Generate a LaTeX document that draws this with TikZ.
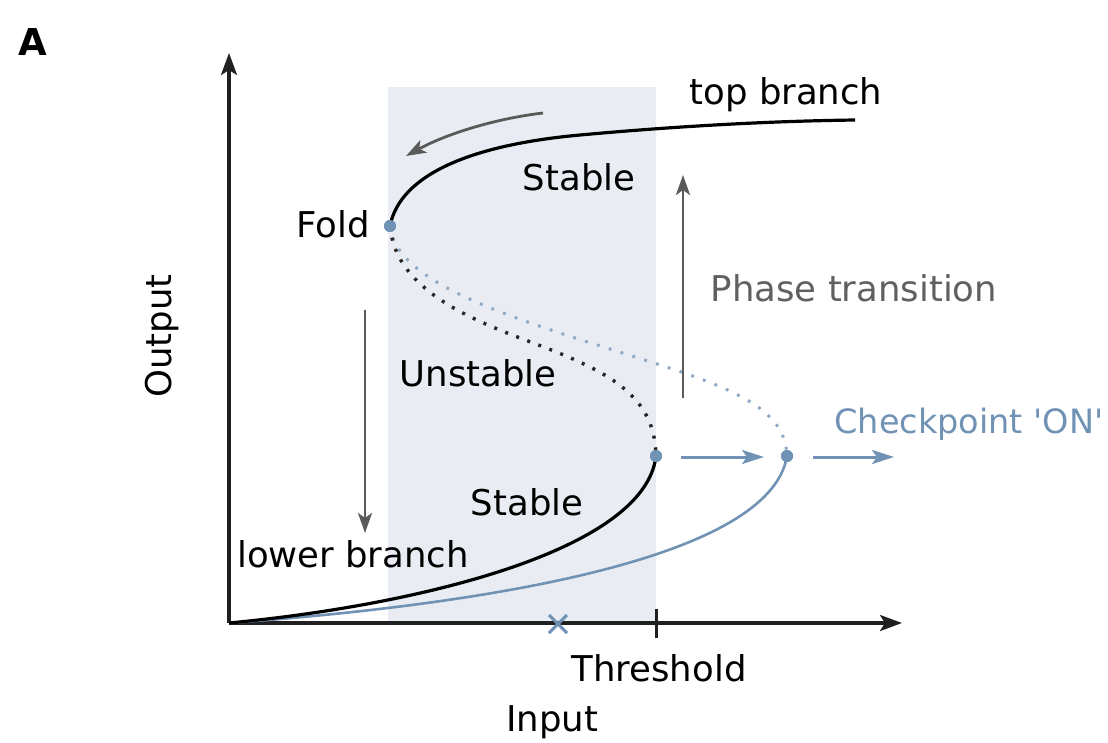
\documentclass[tikz,border=0pt]{standalone}
\usepackage{fontspec}
\setmainfont{DejaVu Sans}
\usetikzlibrary{arrows.meta}
\definecolor{steel}{HTML}{7092B4}
\definecolor{steellight}{HTML}{8FA8C4}
\definecolor{bandfill}{HTML}{E9EDF3}
\definecolor{arrowgray}{HTML}{5A5A5A}
\definecolor{textgray}{HTML}{606060}
\definecolor{axisblack}{HTML}{202020}

\begin{document}
\begin{tikzpicture}[x=1pt,y=-1pt,
  font=\fontsize{35.5}{40}\selectfont,
  lbl/.style={anchor=base, inner sep=0pt},
  axisline/.style={line width=3.2pt, draw=axisblack, -{Stealth[length=22pt,width=16pt,inset=5pt]}},
  solidcurve/.style={line width=3.2pt, draw=black},
  bluecurve/.style={line width=2.6pt, draw=steel},
  blackdots/.style={line width=3.4pt, draw=black!85, dash pattern=on 3pt off 8.8pt},
  bluedots/.style={line width=3pt, draw=steellight, dash pattern=on 2.8pt off 9.6pt},
  grayarrow/.style={line width=2.8pt, draw=arrowgray, -{Stealth[length=20pt,width=14pt,inset=5pt]}},
  bluearrow/.style={line width=3pt, draw=steel, -{Stealth[length=22pt,width=14pt,inset=5pt]}},
  bifdot/.style={circle, fill=steel, inner sep=0pt, minimum size=12pt},
]
\useasboundingbox (0,0) rectangle (1108,742);

% bistable input window
\fill[bandfill] (388,87) rectangle (656,622);

% axes
\coordinate (origin) at (229,623);
\coordinate (ytip) at (229,53);
\coordinate (xtip) at (902,623);
\draw[axisline] (origin) -- (ytip);
\draw[axisline] (origin) -- (xtip);

% threshold tick and checkpoint input mark
\coordinate (tickTop) at (656,609);
\coordinate (tickBot) at (656,638);
\draw[line width=3pt, axisblack] (tickTop) -- (tickBot);
\coordinate (xm) at (558,624);
\draw[line width=3pt, steel] ([shift={(-9,-9)}]xm) -- ([shift={(9,9)}]xm)
                             ([shift={(-9,9)}]xm) -- ([shift={(9,-9)}]xm);

% bifurcation points
\node[bifdot] (fold) at (390,226) {};
\node[bifdot] (lowfold) at (656,456) {};
\node[bifdot] (ckfold) at (787,456) {};
\coordinate (topend) at (855,120);

% unstable middle branches
\draw[bluedots] (fold.center) .. controls (395,270) and (460,300) .. (560,333)
  .. controls (700,379) and (785,395) .. (ckfold.center);
\draw[blackdots] (fold.center) .. controls (395,285) and (460,315) .. (520,338)
  .. controls (600,368) and (655,390) .. (lowfold.center);

% stable branches
\draw[bluecurve] (ckfold.center) .. controls (770,560) and (480,605) .. (origin);
\draw[solidcurve] (lowfold.center) .. controls (645,550) and (420,605) .. (origin);
\draw[solidcurve] (fold.center) .. controls (400,175) and (470,145) .. (580,135)
  .. controls (690,125) and (780,121) .. (topend);

% redraw dots on top
\node[bifdot] at (fold) {};
\node[bifdot] at (lowfold) {};
\node[bifdot] at (ckfold) {};

% transitions
\coordinate (backStart) at (543,113);
\coordinate (backEnd) at (406,156);
\draw[grayarrow] (backStart) .. controls (500,118) and (450,132) .. (backEnd);
\coordinate (jumpStart) at (683,398);
\coordinate (jumpEnd) at (683,175);
\draw[grayarrow] (jumpStart) -- (jumpEnd);
\coordinate (dropStart) at (365,310);
\coordinate (dropEnd) at (365,533);
\draw[grayarrow] (dropStart) -- (dropEnd);
\coordinate (shiftA) at (681,457);
\coordinate (shiftB) at (764,457);
\draw[bluearrow] (shiftA) -- (shiftB);
\coordinate (shiftC) at (813,457);
\coordinate (shiftD) at (894,457);
\draw[bluearrow] (shiftC) -- (shiftD);

% labels
\node[lbl] (ltop) at (786,104) {top branch};
\node[lbl] (lstab1) at (579,190) {Stable};
\node[lbl] (lfold) at (333,237) {Fold};
\node[lbl, text=textgray] (lphase) at (854,301) {Phase transition};
\node[lbl] (lunst) at (478,386) {Unstable};
\node[lbl, text=steel, font=\fontsize{33.5}{40}\selectfont] (lck) at (969,433) {Checkpoint \textquotesingle ON\textquotesingle};
\node[lbl] (lstab2) at (527,515) {Stable};
\node[lbl] (llow) at (353,567) {lower branch};
\node[lbl] (lthr) at (659,681) {Threshold};
\node[lbl] (lin) at (552,731) {Input};
\node[rotate=90, inner sep=0pt] (lout) at (162,336) {Output};
\node[lbl, font=\fontsize{37}{40}\selectfont\bfseries] (lA) at (33,55) {A};
\end{tikzpicture}
\end{document}
